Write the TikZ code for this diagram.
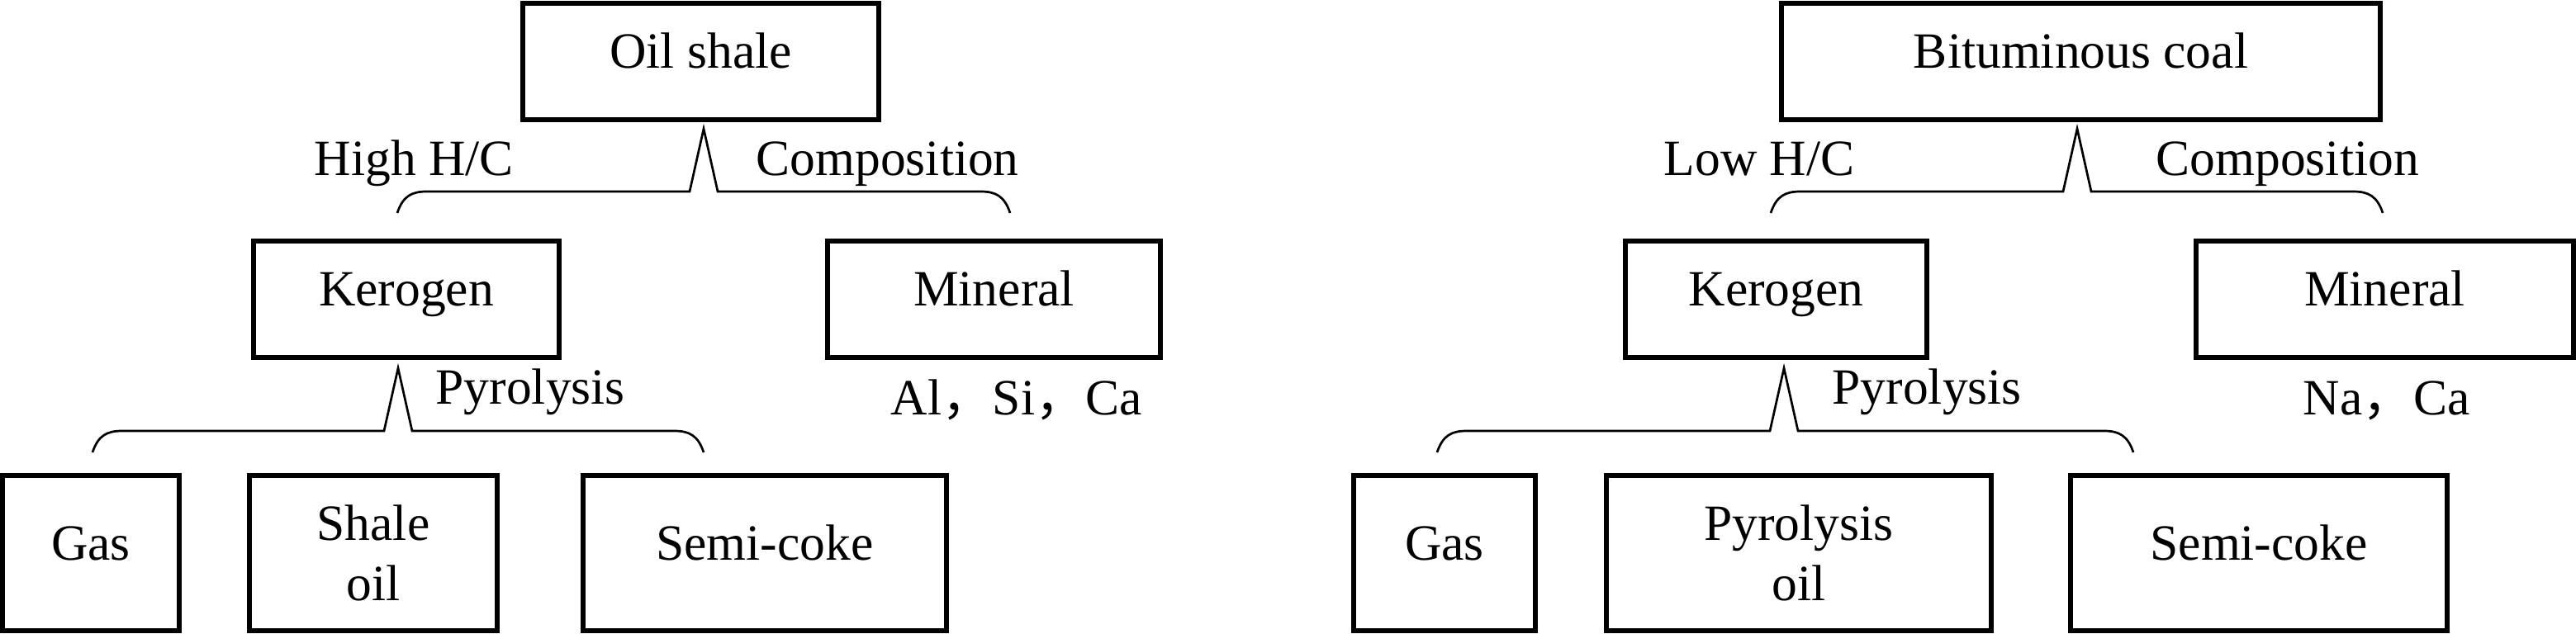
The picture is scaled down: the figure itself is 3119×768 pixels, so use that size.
\documentclass[tikz,border=0pt]{standalone}
\usepackage{fontspec}
\setmainfont{Liberation Serif}
\newfontfamily\cjk{Noto Sans CJK SC}
\usepackage{tikz}
\tikzset{
    plain-box/.style = {draw=black, fill=white, line width=0.06cm, rectangle, inner sep=0pt, minimum height=1.41cm, text height=0.7em, text depth=0.23em, align=center},
    low-box/.style = {plain-box, minimum height=1.88cm},
    two-line/.style = {text height={}, text depth={}},
    side-text/.style = {inner sep=0pt, anchor=base west},
    brace-line/.style = {draw=black, line width=0.027cm, line join=miter},
}
% #1 left end, #2 tip, #3 right end, #4 level of the bar
\newcommand{\splitbrace}[4]{%
    \draw[brace-line] (#1,#4+26) .. controls (#1+7,#4+5) and (#1+18,#4) .. (#1+36,#4)
        -- (#2-17,#4) -- (#2,#4-76) -- (#2+17,#4) -- (#3-36,#4)
        .. controls (#3-18,#4) and (#3-7,#4+5) .. (#3,#4+26);
}

\begin{document}
\begin{tikzpicture}[x=0.01cm, y=-0.01cm, font=\fontsize{17.5}{20.8}\selectfont]
\useasboundingbox (0,0) rectangle (3119,768);

% oil shale
\node[plain-box, minimum width=4.31cm] (oil-shale) at (848.5,74.5) {Oil shale};
\node[plain-box, minimum width=3.70cm] (kerogen-l) at (492,362.5) {Kerogen};
\node[plain-box, minimum width=4.03cm] (mineral-l) at (1203.5,362.5) {Mineral};
\node[low-box, minimum width=2.14cm] (gas-l) at (110,670) {Gas};
\node[low-box, two-line, minimum width=3.00cm] (shale-oil) at (452,670) {Shale\\oil};
\node[low-box, minimum width=4.40cm] (semi-coke-l) at (926,670) {Semi-coke};

\node[side-text] (high-hc) at (380,213) {High H/C};
\node[side-text] (comp-l) at (915,213) {Composition};
\node[side-text] (pyro-l) at (527,490) {Pyrolysis};
\node[side-text] (elem-l) at (1078,503) {Al{\cjk ，}Si{\cjk ，}Ca};

\splitbrace{481}{852}{1223}{232}
\splitbrace{112}{482}{852}{522}

% bituminous coal
\node[plain-box, minimum width=7.25cm] (bit-coal) at (2519.5,74.5) {Bituminous coal};
\node[plain-box, minimum width=3.65cm] (kerogen-r) at (2150.5,362.5) {Kerogen};
\node[plain-box, minimum width=4.57cm] (mineral-r) at (2887.5,362.5) {Mineral};
\node[low-box, minimum width=2.20cm] (gas-r) at (1749,670) {Gas};
\node[low-box, two-line, minimum width=4.66cm] (pyro-oil) at (2178,670) {Pyrolysis\\oil};
\node[low-box, minimum width=4.56cm] (semi-coke-r) at (2735,670) {Semi-coke};

\node[side-text] (low-hc) at (2014,213) {Low H/C};
\node[side-text] (comp-r) at (2610,213) {Composition};
\node[side-text] (pyro-r) at (2218,490) {Pyrolysis};
\node[side-text] (elem-r) at (2788,503) {Na{\cjk ，}Ca};

\splitbrace{2144}{2515}{2885}{232}
\splitbrace{1740}{2160}{2583}{522}
\end{tikzpicture}
\end{document}
